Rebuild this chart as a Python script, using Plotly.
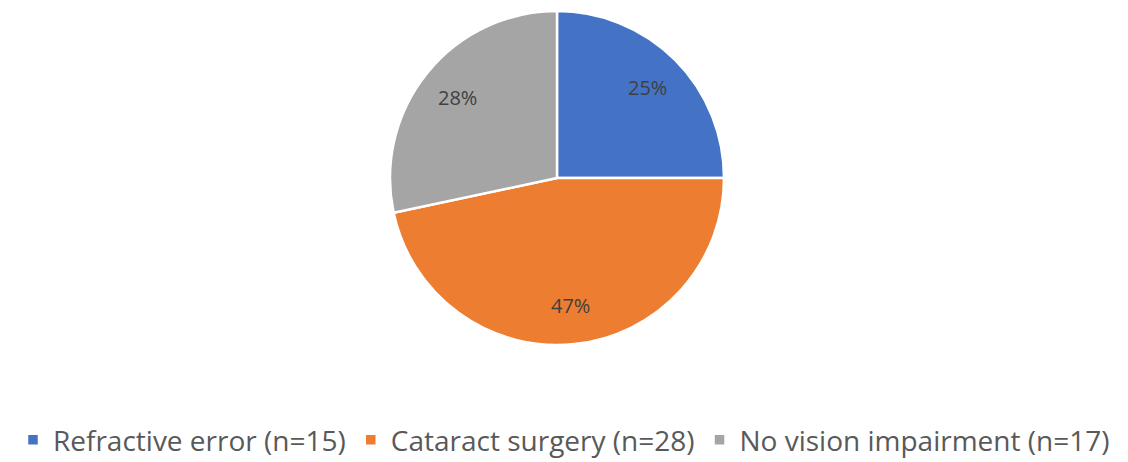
import math
import plotly.graph_objects as go

labels = ["Refractive error (n=15)", "Cataract surgery (n=28)", "No vision impairment (n=17)"]
values = [15, 28, 17]
colors = ["#4472C4", "#ED7D31", "#A5A5A5"]

W, H = 1128, 462
cx, cy, r = 557, 178, 167

fig = go.Figure(go.Pie(
    labels=labels,
    values=values,
    sort=False,
    direction="clockwise",
    rotation=0,
    marker=dict(colors=colors, line=dict(color="white", width=2.5)),
    textinfo="none",
    domain=dict(x=[(cx - r) / W, (cx + r) / W], y=[1 - (cy + r) / H, 1 - (cy - r) / H]),
    hoverinfo="label+percent",
))

# percentage labels placed at ~0.77 radius on each slice's mid-angle
total = sum(values)
cum = 0
for v in values:
    mid = (cum + v / 2) / total * 2 * math.pi
    cum += v
    px = cx + 0.77 * r * math.sin(mid)
    py = cy - 0.77 * r * math.cos(mid)
    fig.add_annotation(
        x=px / W, y=1 - py / H, xref="paper", yref="paper",
        text=f"{round(v / total * 100)}%", showarrow=False,
        font=dict(family="Open Sans", size=20, color="#404040"),
        xanchor="center", yanchor="middle",
    )

fig.update_layout(
    width=W, height=H,
    margin=dict(l=0, r=0, t=0, b=0, autoexpand=False),
    paper_bgcolor="white",
    plot_bgcolor="white",
    showlegend=True,
    legend=dict(
        orientation="h",
        x=0.5, xanchor="center",
        y=1 - 440 / H, yanchor="middle",
        font=dict(family="Open Sans", size=28, color="#595959"),
        itemwidth=30,
        traceorder="normal",
    ),
)

fig.write_html(
    "out.html",
    config={"displayModeBar": False},
    post_script="document.body.style.margin='0';document.body.style.overflow='hidden';",
)
